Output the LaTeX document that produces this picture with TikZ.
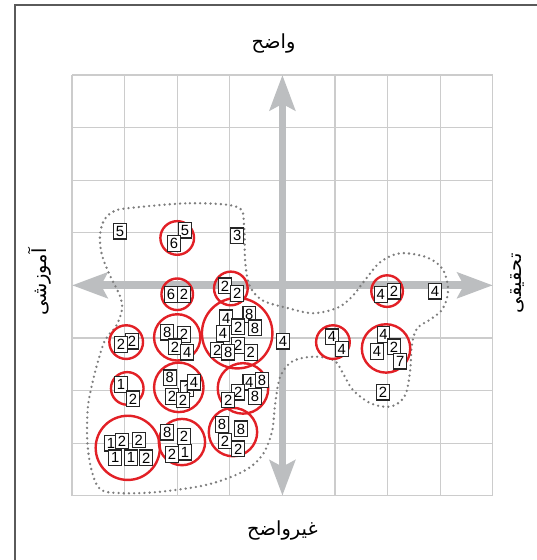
\documentclass[tikz,border=0pt]{standalone}
\usepackage{fontspec}
\usepackage{xcolor}
\usepackage{tikz}
\usetikzlibrary{arrows.meta}
\TeXXeTstate=1
\newfontfamily\arabicfont[Script=Arabic]{DejaVu Sans}
\newfontfamily\numfont{Liberation Sans}
\definecolor{ringRed}{RGB}{226,32,38}
\definecolor{axisGray}{RGB}{188,190,192}
\definecolor{gridGray}{RGB}{204,204,204}
\definecolor{dotGray}{RGB}{125,125,125}
\definecolor{frameGray}{RGB}{90,90,90}
\tikzset{
  axisTip/.tip={Stealth[length=0.67cm,width=0.48cm,inset=0.12cm]},
  axis/.style={axisGray,line width=4.2pt,axisTip-axisTip},
  numbox/.style={draw=black!85,fill=white,line width=0.6pt,inner sep=0pt,
    minimum width=0.24cm,minimum height=0.30cm,font=\numfont\fontsize{8}{9}\selectfont},
  ring/.style={draw=ringRed,line width=1.3pt},
  blob/.style={dotGray,line width=1.4pt,line cap=round,dash pattern=on 0pt off 2.8pt},
  lbl/.style={font=\arabicfont\fontsize{10.5}{12}\selectfont}
}
\begin{document}
\begin{tikzpicture}
  \useasboundingbox (-1.369,-1.222) rectangle (8.821,9.424);
  % Frame
  \draw[frameGray,line width=0.8pt] (-1.084,-1.4) |- (9,9.33);
  % Grid
  \draw[gridGray,line width=0.65pt] (0,0) grid (8,8);
  % Axes
  \coordinate (L) at (0,4);
  \coordinate (R) at (8,4);
  \coordinate (B) at (4,0);
  \coordinate (T) at (4,8);
  \draw[axis] (L) -- (R);
  \draw[axis] (B) -- (T);
  % Axis labels
  \node[lbl] (clear) at (3.83,8.6) {\beginR واضح\endR};
  \node[lbl] (unclear) at (4,-0.67) {\beginR غیرواضح\endR};
  \node[lbl,rotate=90] (edu) at (-0.61,4.06) {\beginR آموزشی\endR};
  \node[lbl,rotate=90] (res) at (8.46,4.04) {\beginR تحقیقی\endR};
  % Dotted outline
  \draw[blob] plot[smooth cycle,tension=0.55] coordinates {
    (1.10,5.47) (2.24,5.56) (3.14,5.49) (3.27,5.15) (3.29,4.48) (3.37,4.01)
    (3.61,3.72) (4.09,3.57) (4.58,3.47) (5.04,3.57) (5.32,3.78) (5.57,4.10)
    (5.86,4.44) (6.24,4.61) (6.75,4.53) (7.05,4.30) (7.15,3.90) (7.05,3.56)
    (6.84,3.37) (6.56,3.18) (6.46,2.86) (6.43,2.39) (6.35,1.95) (6.20,1.76)
    (5.99,1.69) (5.67,1.76) (5.34,2.01) (5.15,2.33) (5.00,2.56) (4.71,2.64)
    (4.39,2.62) (4.14,2.52) (3.95,2.24) (3.86,1.73) (3.80,1.21) (3.61,0.76)
    (3.25,0.46) (2.57,0.21) (1.62,0.07) (0.91,0.05) (0.53,0.13) (0.36,0.53)
    (0.29,1.06) (0.30,1.67) (0.38,2.11) (0.49,2.54) (0.63,2.96) (0.84,3.23)
    (0.95,3.54) (0.91,3.80) (0.72,4.19) (0.57,4.57) (0.53,4.93) (0.61,5.24)
    (0.80,5.41)};
  % Circles
  \draw[ring] (2.00,4.90) circle (0.32);
  \draw[ring] (2.00,3.83) circle (0.30);
  \draw[ring] (3.02,3.94) circle (0.32);
  \draw[ring] (3.14,3.09) circle (0.67);
  \draw[ring] (2.00,3.01) circle (0.44);
  \draw[ring] (1.03,2.92) circle (0.32);
  \draw[ring] (1.05,2.04) circle (0.31);
  \draw[ring] (2.03,2.06) circle (0.47);
  \draw[ring] (3.25,2.04) circle (0.48);
  \draw[ring] (1.06,0.91) circle (0.61);
  \draw[ring] (2.09,1.02) circle (0.44);
  \draw[ring] (3.06,1.21) circle (0.46);
  \draw[ring] (5.99,3.89) circle (0.30);
  \draw[ring] (4.96,2.92) circle (0.32);
  \draw[ring] (5.97,2.80) circle (0.46);
  % Single boxes
  \node[numbox] (s1) at (0.91,5.03) {5};
  \node[numbox] (s2) at (3.14,4.94) {3};
  \node[numbox] (s3) at (4.01,2.94) {4};
  \node[numbox] (s4) at (6.90,3.89) {4};
  \node[numbox] (s5) at (5.91,1.97) {2};
  % Grouped boxes
  \foreach \x/\y/\t [count=\i] in {2.15/5.05/5, 1.94/4.80/6}
    \node[numbox] (a\i) at (\x,\y) {\t};
  \foreach \x/\y/\t [count=\i] in {1.88/3.83/6, 2.13/3.83/2}
    \node[numbox] (b\i) at (\x,\y) {\t};
  \foreach \x/\y/\t [count=\i] in {2.91/3.99/2, 3.14/3.85/2}
    \node[numbox] (c\i) at (\x,\y) {\t};
  \foreach \x/\y/\t [count=\i] in {2.93/3.38/4, 3.37/3.44/8, 3.16/3.21/2, 3.48/3.19/8,
      2.87/3.09/4, 3.16/2.85/2, 2.76/2.77/2, 2.97/2.73/8, 3.40/2.72/2}
    \node[numbox] (d\i) at (\x,\y) {\t};
  \foreach \x/\y/\t [count=\i] in {1.81/3.11/8, 2.13/3.06/2, 1.96/2.83/2, 2.19/2.73/4}
    \node[numbox] (e\i) at (\x,\y) {\t};
  \foreach \x/\y/\t [count=\i] in {1.14/2.94/2, 0.93/2.87/2}
    \node[numbox] (f\i) at (\x,\y) {\t};
  \foreach \x/\y/\t [count=\i] in {0.93/2.12/1, 1.16/1.84/2}
    \node[numbox] (g\i) at (\x,\y) {\t};
  \foreach \x/\y/\t [count=\i] in {2.19/2.03/1, 1.86/2.24/8, 2.32/2.16/4, 1.90/1.88/2, 2.11/1.82/2}
    \node[numbox] (h\i) at (\x,\y) {\t};
  \foreach \x/\y/\t [count=\i] in {3.37/2.16/4, 3.61/2.20/8, 3.16/1.97/2, 2.97/1.82/2, 3.48/1.88/8}
    \node[numbox] (i\i) at (\x,\y) {\t};
  \foreach \x/\y/\t [count=\i] in {0.74/1.00/1, 0.95/1.04/2, 1.27/1.06/2, 0.82/0.72/1, 1.12/0.72/1, 1.41/0.72/2}
    \node[numbox] (j\i) at (\x,\y) {\t};
  \foreach \x/\y/\t [count=\i] in {1.81/1.21/8, 2.13/1.12/2, 2.15/0.83/1, 1.90/0.79/2}
    \node[numbox] (k\i) at (\x,\y) {\t};
  \foreach \x/\y/\t [count=\i] in {2.85/1.36/8, 3.21/1.27/8, 2.91/1.04/2, 3.16/0.89/2}
    \node[numbox] (l\i) at (\x,\y) {\t};
  \foreach \x/\y/\t [count=\i] in {5.87/3.83/4, 6.12/3.89/2}
    \node[numbox] (m\i) at (\x,\y) {\t};
  \foreach \x/\y/\t [count=\i] in {4.94/3.02/4, 5.13/2.79/4}
    \node[numbox] (n\i) at (\x,\y) {\t};
  \foreach \x/\y/\t [count=\i] in {5.92/3.06/4, 5.80/2.74/4, 6.12/2.83/2, 6.24/2.56/7}
    \node[numbox] (o\i) at (\x,\y) {\t};
\end{tikzpicture}
\end{document}
